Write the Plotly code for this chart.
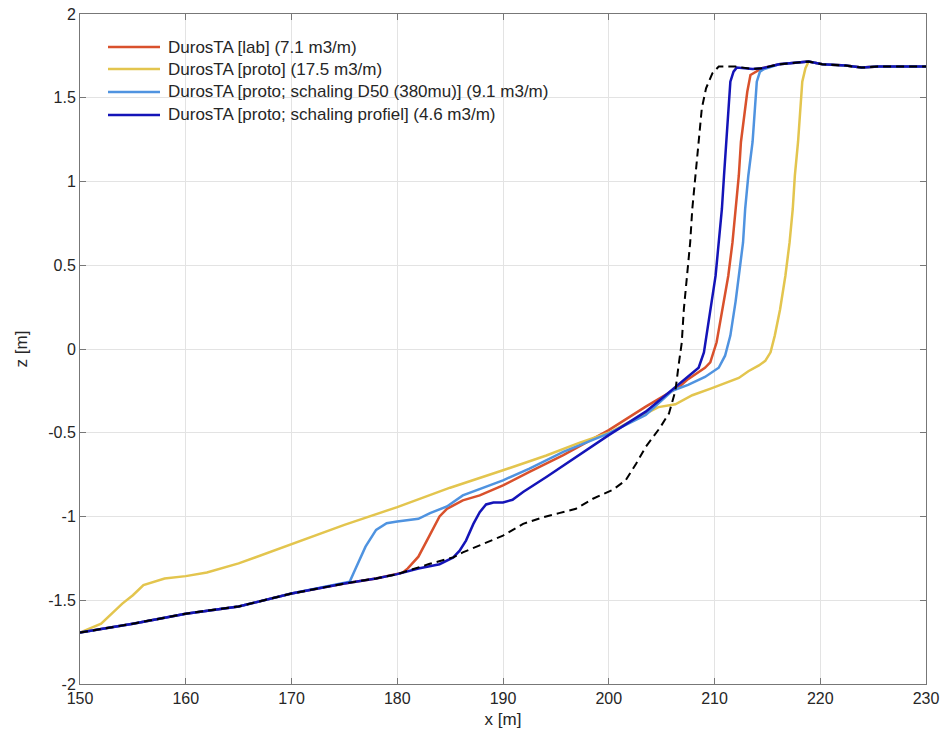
import plotly.graph_objects as go

# shared tail (crest / dune top)
top_x = [216.1, 217.3, 218.9, 220.2, 222.4, 223.9, 225.5, 230]
top_z = [1.70, 1.706, 1.716, 1.70, 1.692, 1.68, 1.686, 1.686]

# Initial profile (black dashed)
init_x = [150, 155, 160, 165, 170, 175, 178, 180, 183, 185.3, 186.2, 190, 191.9, 193.8, 195.3,
          196.9, 198.5, 200.4, 201.6, 202.6, 203.5, 204.8, 205.7, 206.3, 206.6, 206.9, 207.1,
          207.4, 207.7, 207.9, 208.2, 208.5, 208.8, 209.2, 209.8, 210.4, 212, 213.6, 214.5] + top_x
init_z = [-1.693, -1.64, -1.58, -1.537, -1.46, -1.40, -1.37, -1.344, -1.284, -1.244, -1.214, -1.114,
          -1.044, -1.004, -0.98, -0.954, -0.894, -0.84, -0.784, -0.684, -0.584, -0.474, -0.384,
          -0.25, -0.1, 0.036, 0.236, 0.436, 0.636, 0.836, 1.036, 1.236, 1.436, 1.556, 1.646,
          1.686, 1.686, 1.672, 1.676] + top_z

# DurosTA [lab]
lab_x = [150, 155, 160, 165, 170, 175, 178, 180, 180.5, 181, 182, 183, 184, 184.7, 186.2, 187.8,
         190, 192.5, 195.7, 200, 203.5, 206.7, 207.5, 209.1, 209.6, 210.2, 210.9, 211.3, 211.7,
         212.0, 212.3, 212.5, 212.9, 213.1, 213.4, 213.9, 214.5] + top_x
lab_z = [-1.693, -1.64, -1.58, -1.537, -1.46, -1.40, -1.37, -1.344, -1.335, -1.31, -1.24, -1.12,
         -1.0, -0.954, -0.904, -0.874, -0.814, -0.734, -0.634, -0.484, -0.344, -0.224, -0.18,
         -0.112, -0.08, 0.04, 0.286, 0.436, 0.636, 0.836, 1.036, 1.236, 1.436, 1.536, 1.636,
         1.652, 1.676] + top_z

# DurosTA [proto]
proto_x = [150, 152, 154, 155, 156, 157, 158, 160, 162, 165, 170, 175, 180, 185, 190, 194.1,
           197.2, 200, 202.8, 204.7, 206.3, 207.9, 209.7, 211, 212.3, 213.2, 214.2, 214.8, 215.3,
           215.7, 216.2, 216.7, 217.1, 217.4, 217.6, 217.9, 218.1, 218.3, 218.6, 218.9] + top_x[3:]
proto_z = [-1.693, -1.64, -1.52, -1.47, -1.41, -1.39, -1.37, -1.356, -1.334, -1.28, -1.164, -1.05,
           -0.944, -0.828, -0.724, -0.636, -0.56, -0.5, -0.408, -0.347, -0.33, -0.276, -0.235,
           -0.204, -0.173, -0.133, -0.098, -0.071, -0.02, 0.08, 0.236, 0.436, 0.636, 0.836,
           1.036, 1.236, 1.436, 1.596, 1.676, 1.716] + top_z[3:]

# DurosTA [proto; schaling D50 (380mu)]
d50_x = [150, 155, 160, 165, 170, 175, 175.5, 176, 177, 178, 179, 180, 182, 183.1, 184.7, 186.2,
         190, 192.5, 195.7, 200, 203.5, 206, 207.5, 209.1, 210.4, 211, 211.5, 212, 212.3, 212.7,
         212.9, 213.2, 213.6, 213.8, 214.0, 214.3, 214.7] + top_x
d50_z = [-1.693, -1.64, -1.58, -1.537, -1.46, -1.40, -1.39, -1.32, -1.18, -1.08, -1.04, -1.03,
         -1.014, -0.98, -0.94, -0.874, -0.784, -0.714, -0.614, -0.504, -0.394, -0.249, -0.214,
         -0.167, -0.112, -0.04, 0.08, 0.286, 0.436, 0.636, 0.836, 1.036, 1.236, 1.436, 1.596,
         1.656, 1.672] + top_z

# DurosTA [proto; schaling profiel]
prof_x = [150, 155, 160, 165, 170, 175, 178, 180, 182, 184, 185.3, 185.9, 186.5, 187.2, 187.8,
          188.4, 189.1, 190, 190.9, 191.9, 194.1, 197.2, 200, 203.5, 206.3, 208.5, 209, 209.4,
          209.8, 210.1, 210.4, 210.7, 210.9, 211.1, 211.3, 211.5, 211.8, 212.1, 213.6, 214.5] + top_x
prof_z = [-1.693, -1.64, -1.58, -1.537, -1.46, -1.40, -1.37, -1.344, -1.31, -1.285, -1.244, -1.204,
          -1.144, -1.044, -0.974, -0.928, -0.916, -0.916, -0.9, -0.854, -0.764, -0.634, -0.514,
          -0.374, -0.23, -0.112, -0.02, 0.143, 0.286, 0.436, 0.636, 0.836, 1.036, 1.236, 1.436,
          1.596, 1.656, 1.68, 1.672, 1.676] + top_z

x_ticks = [150, 160, 170, 180, 190, 200, 210, 220, 230]
y_ticks = [-2, -1.5, -1, -0.5, 0, 0.5, 1, 1.5, 2]
y_tick_text = ["-2", "-1.5", "-1", "-0.5", "0", "0.5", "1", "1.5", "2"]

series_names = ["DurosTA [lab] (7.1 m3/m)",
                "DurosTA [proto] (17.5 m3/m)",
                "DurosTA [proto; schaling D50 (380mu)] (9.1 m3/m)",
                "DurosTA [proto; schaling profiel] (4.6 m3/m)"]
series_x = [lab_x, proto_x, d50_x, prof_x]
series_z = [lab_z, proto_z, d50_z, prof_z]
series_colors = ["#D9512C", "#E3C54E", "#4F93E0", "#1414B8"]

fig = go.Figure()
for name, xs, zs, col in zip(series_names, series_x, series_z, series_colors):
    fig.add_trace(go.Scatter(x=xs, y=zs, mode="lines", name=name, showlegend=False,
                             line=dict(color=col, width=2.5)))
fig.add_trace(go.Scatter(x=init_x, y=init_z, mode="lines", showlegend=False,
                         name="initial profile",
                         line=dict(color="black", width=2, dash="8px,5px")))

# legend drawn in the MATLAB style (long sample lines, compact rows)
W, H, L, T = 944, 740, 80, 14
R, B = 18, 56
pw, ph = W - L - R, H - T - B
def px_x(p):
    return (p - L) / pw
def px_y(p):
    return (H - B - p) / ph
leg_rows = [47, 69, 92, 115]
for name, col, row in zip(series_names, series_colors, leg_rows):
    fig.add_shape(type="line", xref="paper", yref="paper",
                  x0=px_x(108), x1=px_x(160), y0=px_y(row), y1=px_y(row),
                  line=dict(color=col, width=2.5))
    fig.add_annotation(xref="paper", yref="paper", x=px_x(166), y=px_y(row),
                       xanchor="left", yanchor="middle", showarrow=False, text=name,
                       font=dict(family="Liberation Sans, Arial", size=17, color="#262626"))

axis_common = dict(showgrid=True, gridcolor="#E3E3E3", gridwidth=1, zeroline=False,
                   showline=True, linecolor="#777777", linewidth=1, mirror="ticks",
                   ticks="inside", ticklen=6, tickcolor="#777777", automargin=False,
                   ticklabeloverflow="allow",
                   tickfont=dict(family="Liberation Sans, Arial", size=16, color="#262626"))

fig.update_layout(
    width=W, height=H,
    margin=dict(l=L, r=R, t=T, b=B),
    plot_bgcolor="white", paper_bgcolor="white",
    font=dict(family="Liberation Sans, Arial", size=17, color="#262626"),
    showlegend=False,
    xaxis=dict(range=[150, 230], tickvals=x_ticks,
               title=dict(text="x [m]", font=dict(size=17), standoff=6), **axis_common),
    yaxis=dict(range=[-2, 2], tickvals=y_ticks, ticktext=y_tick_text,
               title=dict(text="z [m]", font=dict(size=17), standoff=16), **axis_common),
)

fig.write_html("out.html")
